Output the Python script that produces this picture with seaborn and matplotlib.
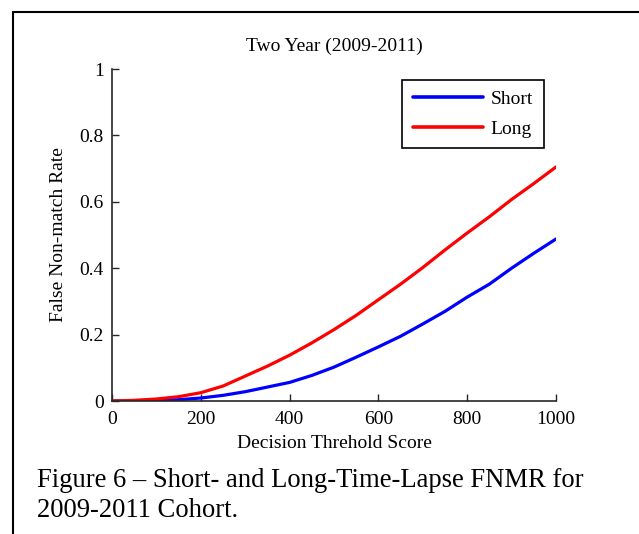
import matplotlib
matplotlib.use("Agg")
import matplotlib.pyplot as plt
from matplotlib.lines import Line2D
import seaborn as sns
import pandas as pd

scores = [0, 50, 100, 150, 200, 250, 300, 350, 400, 450, 500,
          550, 600, 650, 700, 750, 800, 850, 900, 950, 1000]
short_fnmr = [0.0, 0.0, 0.001, 0.004, 0.009, 0.017, 0.028, 0.042, 0.056, 0.077, 0.102,
              0.132, 0.163, 0.195, 0.232, 0.270, 0.313, 0.352, 0.400, 0.445, 0.488]
long_fnmr = [0.0, 0.002, 0.006, 0.013, 0.025, 0.045, 0.075, 0.105, 0.138, 0.175, 0.215,
             0.258, 0.305, 0.352, 0.402, 0.455, 0.506, 0.555, 0.607, 0.655, 0.705]
series_names = ["Short", "Long"]
series_colors = ["#0000ff", "#ff0000"]

title_text = "Two Year (2009-2011)"
xlabel_text = "Decision Threhold Score"
ylabel_text = "False Non-match Rate"
caption_lines = ["Figure 6 \u2013 Short- and Long-Time-Lapse FNMR for",
                 "2009-2011 Cohort."]

df = pd.DataFrame({
    "score": scores * 2,
    "rate": short_fnmr + long_fnmr,
    "series": [series_names[0]] * len(scores) + [series_names[1]] * len(scores),
})

sns.set_style("ticks")
plt.rcParams["font.family"] = ["Liberation Serif", "DejaVu Serif"]
plt.rcParams["xtick.direction"] = "in"
plt.rcParams["ytick.direction"] = "in"
plt.rcParams["text.color"] = "black"
plt.rcParams["axes.labelcolor"] = "black"
plt.rcParams["xtick.labelcolor"] = "black"
plt.rcParams["ytick.labelcolor"] = "black"

W, H = 639, 534
fig = plt.figure(figsize=(W / 100, H / 100), dpi=100)
fig.patch.set_facecolor("white")
ax = fig.add_axes([112 / W, 1 - 401 / H, (556 - 112) / W, (401 - 69) / H])

sns.lineplot(data=df, x="score", y="rate", hue="series",
             palette=dict(zip(series_names, series_colors)),
             linewidth=2.3, ax=ax, legend=False)

ax.set_xlim(0, 1000)
ax.set_ylim(0, 1)
ax.set_xticks([0, 200, 400, 600, 800, 1000])
ax.set_yticks([0, 0.2, 0.4, 0.6, 0.8, 1])
ax.set_yticklabels(["0", "0.2", "0.4", "0.6", "0.8", "1"])
fs = 14
ax.tick_params(labelsize=fs, length=5, width=1, color="#262626", labelcolor="black")
ax.tick_params(axis="x", pad=7)
ax.tick_params(axis="y", pad=6)
for s in ["top", "right"]:
    ax.spines[s].set_visible(False)
for s in ["left", "bottom"]:
    ax.spines[s].set_linewidth(1.2)
    ax.spines[s].set_color("#262626")

ax.set_title(title_text, fontsize=fs, pad=13, color="black")
ax.set_xlabel(xlabel_text, fontsize=fs, labelpad=5)
ax.set_ylabel(ylabel_text, fontsize=fs, labelpad=9)

handles = [Line2D([], [], color=c, lw=2.6) for c in series_colors]
leg = ax.legend(handles, series_names, loc="upper left",
                bbox_to_anchor=((402 - 112) / 444, 1 - (80 - 69) / 332),
                fontsize=fs, frameon=True, fancybox=False, handlelength=3.6,
                borderpad=0.55, labelspacing=0.6, handletextpad=0.4,
                borderaxespad=0)
leg.get_frame().set_edgecolor("black")
leg.get_frame().set_linewidth(1.2)
leg.get_frame().set_alpha(1)
for t in leg.get_texts():
    t.set_color("black")

fig.text(37 / W, 1 - 487 / H, caption_lines[0], fontsize=19.2, ha="left", va="baseline",
         color="black", family=["Liberation Serif", "DejaVu Serif"])
fig.text(37 / W, 1 - 517 / H, caption_lines[1], fontsize=19.2, ha="left", va="baseline",
         color="black", family=["Liberation Serif", "DejaVu Serif"])

fig.add_artist(Line2D([13 / W, 1.0], [1 - 12 / H, 1 - 12 / H], color="black", lw=1.5,
                      transform=fig.transFigure))
fig.add_artist(Line2D([13 / W, 13 / W], [1 - 12 / H, 0], color="black", lw=1.5,
                      transform=fig.transFigure))

fig.savefig("out.png", dpi=100, facecolor="white")
